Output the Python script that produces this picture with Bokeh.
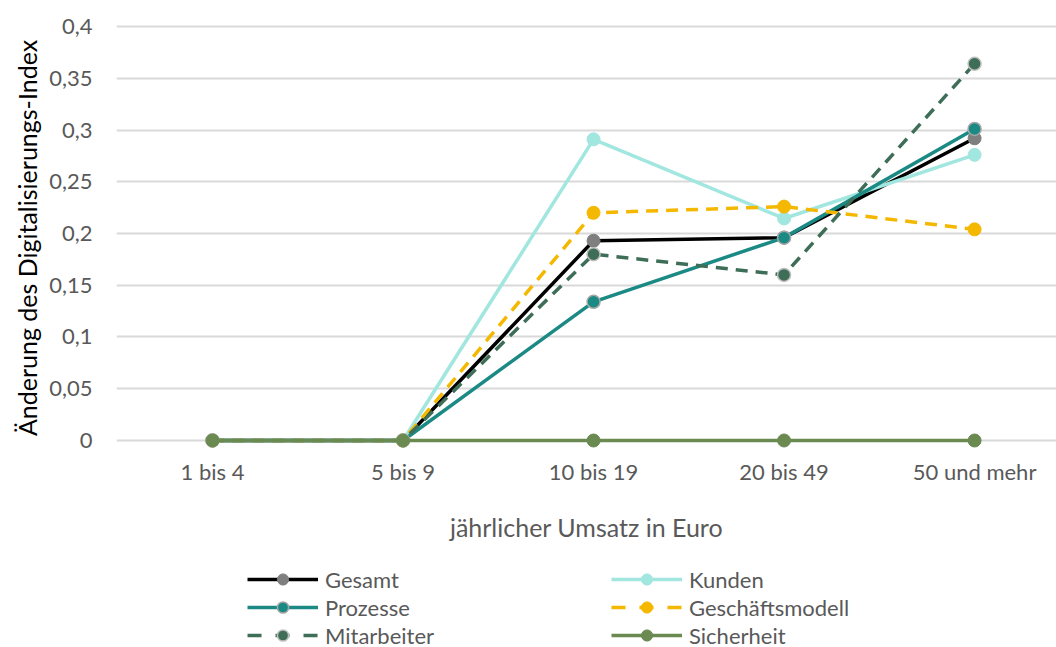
from bokeh.plotting import figure
from bokeh.layouts import column
from bokeh.models import Legend, LegendItem, FixedTicker, ColumnDataSource, Range1d
from bokeh.embed import file_html
from bokeh.resources import INLINE

categories = ["1 bis 4", "5 bis 9", "10 bis 19", "20 bis 49", "50 und mehr"]
gesamt = [0, 0, 0.193, 0.196, 0.292]
kunden = [0, 0, 0.291, 0.2145, 0.276]
prozesse = [0, 0, 0.134, 0.196, 0.301]
geschaeftsmodell = [0, 0, 0.220, 0.226, 0.204]
mitarbeiter = [0, 0, 0.180, 0.160, 0.364]
sicherheit = [0, 0, 0, 0, 0]
y_ticks = [0, 0.05, 0.1, 0.15, 0.2, 0.25, 0.3, 0.35, 0.4]
y_tick_labels = ["0", "0,05", "0,1", "0,15", "0,2", "0,25", "0,3", "0,35", "0,4"]

FONT = "Lato"
GRAY = "#595959"

p = figure(width=1056, height=560, output_backend="svg", toolbar_location=None,
           x_range=Range1d(-0.504, 4.430), y_range=Range1d(-0.0145, 0.4058),
           min_border_top=20, min_border_right=0, min_border_left=116,
           min_border_bottom=105)
p.outline_line_color = None
p.xgrid.grid_line_color = None
p.ygrid.grid_line_color = "#d9d9d9"
p.ygrid.grid_line_width = 2

p.yaxis.ticker = FixedTicker(ticks=y_ticks)
p.yaxis.major_label_overrides = dict(zip(y_ticks, y_tick_labels))
p.yaxis.axis_line_color = None
p.yaxis.major_tick_line_color = None
p.yaxis.minor_tick_line_color = None
p.yaxis.major_tick_out = 0
p.yaxis.major_label_standoff = 24
p.yaxis.major_label_text_font = FONT
p.yaxis.major_label_text_font_size = "22px"
p.yaxis.major_label_text_color = GRAY
p.yaxis.axis_label = "Änderung des Digitalisierungs-Index"
p.yaxis.axis_label_text_font = FONT
p.yaxis.axis_label_text_font_size = "25px"
p.yaxis.axis_label_text_font_style = "normal"
p.yaxis.axis_label_text_color = "#000000"
p.yaxis.axis_label_standoff = 4

xt = list(range(len(categories)))
p.xaxis.ticker = FixedTicker(ticks=xt)
p.xaxis.major_label_overrides = dict(zip(xt, categories))
p.xaxis.axis_line_color = None
p.xaxis.major_tick_line_color = None
p.xaxis.minor_tick_line_color = None
p.xaxis.major_tick_out = 0
p.xaxis.major_label_standoff = 2
p.xaxis.major_label_text_font = FONT
p.xaxis.major_label_text_font_size = "22px"
p.xaxis.major_label_text_color = GRAY
p.xaxis.axis_label = "jährlicher Umsatz in Euro"
p.xaxis.axis_label_text_font = FONT
p.xaxis.axis_label_text_font_size = "25px"
p.xaxis.axis_label_text_font_style = "normal"
p.xaxis.axis_label_text_color = GRAY
p.xaxis.axis_label_standoff = 24

series = [
    ("Gesamt", gesamt, "#000000", None, "#7f7f7f", None),
    ("Kunden", kunden, "#a1e6df", None, "#a1e6df", None),
    ("Prozesse", prozesse, "#1b8a84", None, "#1b8a84", "#a6a6a6"),
    ("Geschäftsmodell", geschaeftsmodell, "#f4b800", "12 8", "#f4b800", None),
    ("Mitarbeiter", mitarbeiter, "#3e6e57", "12 8", "#3e6e57", "#bfbfbf"),
    ("Sicherheit", sicherheit, "#6a8a52", None, "#6a8a52", None),
]

# legend figure (its own copies of the series lie outside its visible range)
pl = figure(width=1056, height=87, output_backend="svg", toolbar_location=None,
            x_range=Range1d(-20, -19), y_range=Range1d(-20, -19),
            x_axis_location=None, y_axis_location=None, min_border=0)
pl.outline_line_color = None
pl.grid.visible = False

items = {}
for name, vals, lc, dash, mc, oc in series:
    src = ColumnDataSource(dict(x=xt, y=vals))
    kw = dict(line_dash=dash) if dash else {}
    p.line("x", "y", source=src, line_color=lc, line_width=3.5, **kw)
    p.scatter("x", "y", source=src, size=13, fill_color=mc,
              line_color=oc if oc else mc, line_width=1.5 if oc else 1)
    lkw = dict(line_dash="14 14") if dash else {}
    lr = pl.line("x", "y", source=src, line_color=lc, line_width=3.5, **lkw)
    sr = pl.scatter("x", "y", source=src, size=13, fill_color=mc,
                    line_color=oc if oc else mc, line_width=1.5 if oc else 1)
    items[name] = LegendItem(label=name, renderers=[lr, sr])

order = ["Gesamt", "Prozesse", "Mitarbeiter", "Kunden", "Geschäftsmodell", "Sicherheit"]
legend = Legend(items=[items[n] for n in order], ncols=2,
                location=(131, -2), border_line_color=None, background_fill_alpha=0,
                padding=0, margin=0, spacing=0, glyph_width=71, glyph_height=28,
                label_height=22, label_standoff=7, label_width=286,
                label_text_font=FONT, label_text_font_size="22px", label_text_color=GRAY)
pl.add_layout(legend, "center")

layout = column(p, pl, spacing=0)
open("out.html", "w").write(file_html(layout, INLINE))
